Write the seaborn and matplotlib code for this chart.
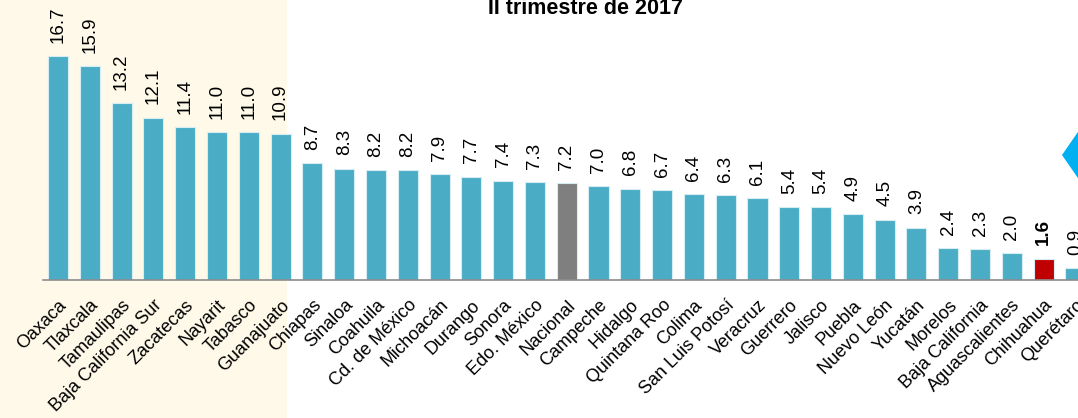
import matplotlib
matplotlib.use("Agg")
import matplotlib.pyplot as plt
import seaborn as sns
import numpy as np
from matplotlib.patches import Rectangle, Polygon

# Estados ordenados por valor (II trimestre de 2017)
estados = ["Oaxaca", "Tlaxcala", "Tamaulipas", "Baja California Sur", "Zacatecas",
           "Nayarit", "Tabasco", "Guanajuato", "Chiapas", "Sinaloa", "Coahuila",
           "Cd. de México", "Michoacán", "Durango", "Sonora", "Edo. México",
           "Nacional", "Campeche", "Hidalgo", "Quintana Roo", "Colima",
           "San Luis Potosí", "Veracruz", "Guerrero", "Jalisco", "Puebla",
           "Nuevo León", "Yucatán", "Morelos", "Baja California",
           "Aguascalientes", "Chihuahua", "Querétaro"]
valores = [16.7, 15.9, 13.2, 12.1, 11.4, 11.0, 11.0, 10.9, 8.7, 8.3, 8.2,
           8.2, 7.9, 7.7, 7.4, 7.3, 7.2, 7.0, 6.8, 6.7, 6.4, 6.3, 6.1, 5.4,
           5.4, 4.9, 4.5, 3.9, 2.4, 2.3, 2.0, 1.6, 0.9]
destacados = {"Nacional": "#7F7F7F", "Chihuahua": "#C00000"}
color_base = "#4BACC6"

colores = {e: destacados.get(e, color_base) for e in estados}

sns.set_style("white")
plt.rcParams["font.family"] = ["Liberation Sans", "DejaVu Sans"]

W, H = 1078, 418
fig = plt.figure(figsize=(W / 100, H / 100), dpi=100)
fig.patch.set_facecolor("white")

# fondo crema de los primeros estados
fig.patches.append(Rectangle((0, 0), 287 / W, 1, transform=fig.transFigure,
                             facecolor="#FEF9E8", edgecolor="none", zorder=-5))

ax = fig.add_axes([42.7 / W, (H - 280) / H, 1 - 42.7 / W, 280 / H])
ax.set_facecolor("none")

sns.barplot(x=estados, y=valores, hue=estados, palette=colores, legend=False,
            width=0.63, saturation=1, edgecolor="#D6EDF3", linewidth=0.8, ax=ax)

ax.set_xlim(-0.48, 32.08)
ax.set_ylim(0, 20.85)
ax.set_yticks([])
ax.set_ylabel("")
for s in ["top", "right", "left"]:
    ax.spines[s].set_visible(False)
ax.spines["bottom"].set_color("#8C8C8C")
ax.spines["bottom"].set_linewidth(1.2)

for i, (e, v) in enumerate(zip(estados, valores)):
    ax.annotate(f"{v:.1f}", (i, v), xytext=(0, 9.5), textcoords="offset points",
                rotation=90, ha="center", va="bottom", fontsize=13.5,
                fontweight="bold" if e == "Chihuahua" else "normal",
                color="black", annotation_clip=False)

ax.set_xticks(range(len(estados)))
ax.set_xticklabels(estados, rotation=45, ha="right", rotation_mode="anchor",
                   fontsize=13, color="black")
ax.tick_params(axis="x", length=0, pad=12)

fig.text(586 / W, 1 - 14 / H, "II trimestre de 2017", ha="center",
         va="baseline", fontsize=15.5, fontweight="bold", color="black")

# flecha decorativa al borde derecho
fig.patches.append(Polygon([(1062 / W, 1 - 155 / H), (1080 / W, 1 - 129 / H),
                            (1080 / W, 1 - 181 / H)], closed=True,
                           transform=fig.transFigure, facecolor="#00B0F0",
                           edgecolor="none"))

fig.savefig("out.png", dpi=100)
